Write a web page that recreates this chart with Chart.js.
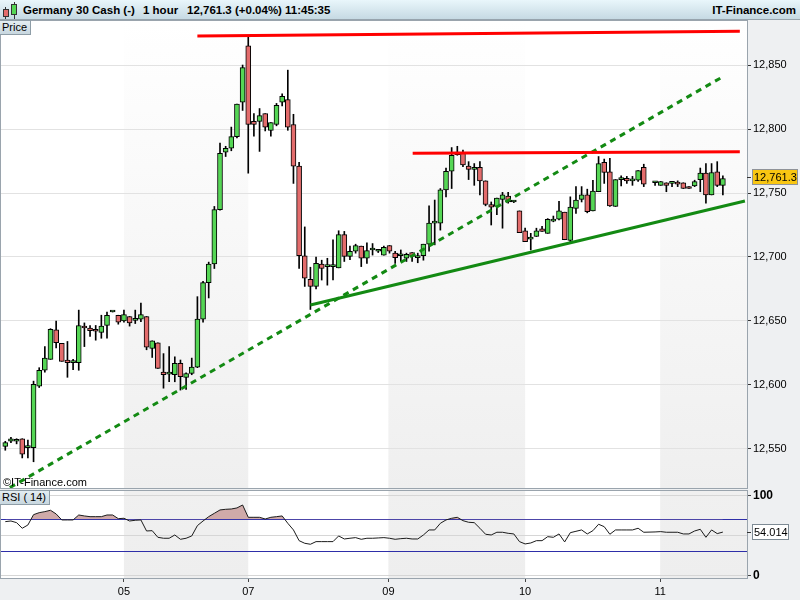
<!DOCTYPE html>
<html>
<head>
<meta charset="utf-8">
<script src="https://cdn.jsdelivr.net/npm/chart.js@4.4.1/dist/chart.umd.min.js"></script>
<style>
  body { margin:0; width:800px; height:600px; overflow:hidden; position:relative; background:#eef0f2; font-family:"Liberation Sans", Arial, sans-serif; }
  #header { position:absolute; left:0; top:0; width:800px; height:19px; background:linear-gradient(#e9f6fb, #c6dae3); border-bottom:1px solid #97a4ad; }
  #header span { position:absolute; top:0; line-height:20px; font-size:11.5px; font-weight:bold; color:#000; white-space:nowrap; }
  .ico { position:absolute; }
  canvas { position:absolute; left:0; }
  .tag { position:absolute; left:0; height:13px; line-height:13px; padding:0 3px 0 2px; font-size:11px; color:#000; background:linear-gradient(#e3edf2,#c8d7df); border:1px solid #8e9da7; border-left:none; }
  #copy { position:absolute; left:3px; top:476px; font-size:11px; line-height:13px; color:#000; }
</style>
</head>
<body>
<div id="header">
  <div class="ico" style="left:5px;top:7px;width:1px;height:12px;background:#333"></div>
  <div class="ico" style="left:3px;top:9px;width:4px;height:6px;background:#e36c6c;border:1px solid #333"></div>
  <div class="ico" style="left:14px;top:2px;width:1px;height:17px;background:#333"></div>
  <div class="ico" style="left:11px;top:4px;width:4px;height:9px;background:#55d655;border:1px solid #333"></div>
  <span style="left:23px">Germany 30 Cash (-)</span>
  <span style="left:143px">1 hour</span>
  <span style="left:187px">12,761.3 (+0.04%)</span>
  <span style="left:285px">11:45:35</span>
  <span style="right:4px">IT-Finance.com</span>
</div>
<canvas id="priceChart" width="800" height="470" style="top:20px"></canvas>
<canvas id="rsiChart" width="800" height="110" style="top:490px"></canvas>
<div class="tag" style="top:20px">Price</div>
<div class="tag" style="top:490px">RSI ( 14)</div>
<div id="copy">©IT-Finance.com</div>
<script>
// hourly candles, index 0..127 (114 = no bar)
const opens = [12552, 12556, 12556, 12558, 12551, 12551, 12599, 12611.5, 12620, 12643,
  12632.5, 12619.5, 12617.5, 12617.5, 12646, 12644.5, 12643, 12641, 12646.5, 12657,
  12654.5, 12650, 12653.5, 12650.5, 12651.5, 12653.5, 12628.5, 12633, 12610, 12608.5,
  12608, 12617, 12606, 12609, 12614, 12651.5, 12680, 12694.5, 12737, 12782,
  12785, 12794, 12821, 12865, 12806, 12806, 12812, 12799, 12803.5, 12821,
  12823, 12803.5, 12771, 12701, 12682.5, 12677, 12694.5, 12692.5, 12692.5, 12691.5,
  12717.5, 12700.5, 12704.5, 12708.5, 12699, 12705.5, 12704.5, 12701.5, 12709, 12703,
  12701, 12699, 12703.5, 12699.5, 12701, 12710, 12726.5, 12726.5, 12752.5, 12767,
  12780, 12781, 12771, 12768.5, 12770, 12759.5, 12741, 12739.5, 12745, 12747.5,
  12743, 12736, 12720.5, 12714, 12716, 12722, 12718.5, 12728, 12729.5, 12735,
  12713, 12738, 12745, 12748.5, 12736, 12751, 12774, 12766.5, 12739.5, 12760.5,
  12761.5, 12759.5, 12760, 12770, null, 12758, 12756, 12758, 12757.5, 12758,
  12758, 12755, 12755.5, 12760.5, 12765.5, 12748.5, 12766.5, 12756];
const highs = [12556, 12559, 12558, 12558, 12557, 12603, 12613.5, 12630, 12644, 12650,
  12632.5, 12634, 12620, 12658.5, 12648.5, 12646.5, 12646.5, 12654.5, 12657, 12657.5,
  12654.5, 12658.5, 12653.5, 12658.5, 12664, 12653.5, 12634.5, 12633, 12624.5, 12630,
  12622, 12619.5, 12609.5, 12621, 12669, 12681, 12696, 12739.5, 12789, 12786.5,
  12801.5, 12819.5, 12850, 12872, 12812, 12816, 12812, 12805, 12820, 12827.5,
  12846, 12811.5, 12774, 12723.5, 12692, 12700, 12697.5, 12699, 12713.5, 12720.5,
  12720, 12708.5, 12710, 12708.5, 12711, 12710.5, 12706, 12708.5, 12709, 12704.5,
  12705.5, 12703, 12703.5, 12703, 12710, 12740, 12744.5, 12753.5, 12769.5, 12785.5,
  12786.5, 12783.5, 12774.5, 12773, 12774.5, 12759.5, 12743, 12746, 12750.5, 12750.5,
  12744, 12736, 12722.5, 12718.5, 12722.5, 12724, 12730, 12732, 12743.5, 12735,
  12747, 12755, 12755, 12753, 12760, 12778.5, 12776.5, 12777, 12760.5, 12763.5,
  12763, 12763, 12767.5, 12772.5, null, 12759, 12759, 12758, 12759, 12759.5,
  12758, 12755, 12760, 12769.5, 12773, 12773, 12774.5, 12763.5];
const lows = [12549, 12555, 12554, 12543, 12543, 12540, 12598, 12610, 12620, 12629,
  12618.5, 12606, 12612, 12611.5, 12630, 12638, 12635, 12636.5, 12636.5, 12657,
  12647.5, 12649, 12646, 12648, 12649.5, 12627.5, 12621.5, 12613, 12597.5, 12602.5,
  12602.5, 12596, 12596.5, 12608, 12613.5, 12649, 12668, 12691, 12736.5, 12778.5,
  12783, 12793, 12814.5, 12765.5, 12794.5, 12782.5, 12798.5, 12794.5, 12802.5, 12818,
  12799, 12757.5, 12691, 12677, 12659, 12675, 12682, 12678, 12682, 12691.5,
  12696.5, 12698, 12703, 12692.5, 12695, 12701.5, 12703.5, 12701.5, 12703, 12695,
  12696.5, 12696.5, 12696.5, 12695.5, 12697.5, 12704.5, 12709.5, 12721, 12747, 12753.5,
  12779.5, 12770.5, 12760.5, 12756, 12748.5, 12740, 12725, 12733, 12722.5, 12742,
  12742.5, 12719, 12712, 12705.5, 12716, 12720, 12718.5, 12727.5, 12729, 12713.5,
  12712, 12734, 12743, 12734.5, 12736, 12751, 12757.5, 12739.5, 12739.5, 12755.5,
  12757.5, 12756, 12759, 12755, null, 12756, 12756, 12751, 12755, 12755,
  12753.5, 12753.5, 12755, 12751, 12742, 12748.5, 12755, 12748.5];
const closes = [12555, 12558, 12556, 12546, 12551, 12600.5, 12611.5, 12621, 12643.5, 12633,
  12618.5, 12617.5, 12617.5, 12646.5, 12644.5, 12642.5, 12642, 12646, 12654.5, 12657,
  12649, 12655, 12648.5, 12652, 12655, 12629.5, 12634.5, 12613, 12608, 12608.5,
  12617, 12606.5, 12609, 12614, 12651.5, 12680, 12694.5, 12737, 12781, 12785,
  12794, 12819.5, 12848, 12803.5, 12803.5, 12810.5, 12801.5, 12805, 12818.5, 12825.5,
  12801.5, 12771, 12701, 12683.5, 12677, 12695, 12691, 12692.5, 12692.5, 12717.5,
  12700.5, 12704.5, 12709, 12699, 12705, 12705.5, 12704.5, 12707.5, 12704.5, 12699.5,
  12701, 12702, 12700.5, 12699.5, 12710, 12726.5, 12726.5, 12752.5, 12767, 12779.5,
  12782, 12772, 12768.5, 12770, 12759.5, 12741, 12739, 12746, 12748.5, 12743,
  12743, 12719, 12712, 12714, 12720.5, 12720, 12729.5, 12728, 12736, 12713.5,
  12739, 12744.5, 12748.5, 12735.5, 12751.5, 12773, 12766, 12740, 12760.5, 12760.5,
  12759.5, 12759.5, 12767.5, 12757, null, 12758, 12759, 12756, 12757.5, 12757,
  12753.5, 12753.5, 12759, 12765.5, 12748.5, 12766, 12756, 12761.3];

const rsiValues = [67.1, 67.9, 65.8, 58.8, 62.9, 75.8, 78.3, 79.6, 81.3, 76.7,
  69.2, 69.2, 69.2, 75.4, 74.2, 73.3, 73.3, 73.3, 75.4, 75.4,
  70.8, 71.3, 67.9, 68.8, 69.2, 55.4, 55.8, 47.5, 46.3, 46.3,
  50.4, 45.0, 46.3, 49.2, 62.1, 67.9, 73.3, 77.5, 81.7, 82.5,
  82.9, 84.2, 87.9, 72.5, 72.5, 72.5, 70.4, 72.5, 73.3, 74.2,
  65.0, 56.7, 43.3, 40.0, 38.8, 42.1, 42.1, 42.1, 42.1, 49.2,
  45.4, 46.3, 47.1, 45.0, 46.3, 46.3, 46.7, 47.1, 46.3, 45.0,
  45.8, 46.3, 45.4, 45.4, 50.4, 56.7, 56.7, 65.0, 69.2, 71.3,
  72.5, 68.3, 66.3, 65.8, 58.8, 51.3, 50.4, 53.8, 53.8, 52.5,
  51.7, 42.1, 39.2, 40.4, 43.3, 43.3, 48.3, 47.5, 51.7, 41.7,
  53.3, 55.0, 56.7, 51.7, 55.8, 63.8, 60.8, 51.3, 56.7, 56.7,
  56.7, 56.7, 58.8, 53.8, null, 54.2, 54.6, 53.8, 53.8, 53.8,
  51.7, 51.7, 55.4, 57.5, 47.5, 56.7, 52.1, 54.014];

const dayTicks = [21, 43, 67.8, 92, 115.9];
const dayLabels = ['05', '07', '09', '10', '11'];
const priceTicks = [12550, 12600, 12650, 12700, 12750, 12800, 12850];
const rsiTicks = [0, 50, 100];
const rsiLevels = [30, 70];

// trend lines drawn on the chart (x = bar index, y = price)
const resistanceTop = [{x: 34.0, y: 12872.7}, {x: 130.0, y: 12876.3}];
const resistanceMid = [{x: 72.1, y: 12781.0}, {x: 130.0, y: 12782.3}];
const supportLine = [{x: 54.0, y: 12662.5}, {x: 130.9, y: 12743.8}];
const dashedSupport = [{x: 0.8, y: 12519.8}, {x: 127.2, y: 12841.4}];

const lastPrice = 12761.3;
const lastRsi = 54.014;

Chart.defaults.font.family = '"Liberation Sans", Arial, sans-serif';
Chart.defaults.color = '#000';

const wickData = [], bodyData = [], bodyColors = [];
opens.forEach((o, i) => {
    if (o === null) return;
    wickData.push({ x: i, y: [lows[i], highs[i]] });
    bodyData.push({ x: i, y: [o, closes[i]] });
    bodyColors.push(closes[i] >= o ? '#55d655' : '#e36c6c');
});

const xMin = -0.76, xMax = 131.27;

const bandsPlugin = {
    id: 'bands',
    beforeDraw(chart, args, opts) {
        const { ctx, chartArea: a, scales: { x } } = chart;
        ctx.save();
        ctx.fillStyle = '#fff';
        ctx.fillRect(a.left, a.top, a.width, a.height);
        const g = ctx.createLinearGradient(0, a.top, 0, a.bottom);
        g.addColorStop(0, opts.top);
        g.addColorStop(1, opts.bottom);
        ctx.fillStyle = g;
        const edges = [x.min, ...dayTicks, x.max];
        for (let k = 1; k < edges.length - 1; k += 2) {
            const x0 = x.getPixelForValue(edges[k]);
            const x1 = x.getPixelForValue(edges[k + 1]);
            ctx.fillRect(x0, a.top, x1 - x0, a.height);
        }
        ctx.restore();
    }
};

const framePlugin = {
    id: 'frame',
    afterDraw(chart) {
        const { ctx, chartArea: a } = chart;
        ctx.save();
        ctx.strokeStyle = '#9aa4ad';
        ctx.lineWidth = 1;
        ctx.strokeRect(a.left - 0.5, a.top - 0.5, a.width + 1, a.height + 1);
        ctx.restore();
    }
};

const valueTagPlugin = {
    id: 'valueTag',
    afterDraw(chart, args, opts) {
        const { ctx, chartArea: a, scales: { y } } = chart;
        const py = Math.round(y.getPixelForValue(opts.value) + opts.shift);
        ctx.save();
        ctx.strokeStyle = '#333';
        ctx.lineWidth = 1;
        ctx.beginPath();
        ctx.moveTo(a.right, py + 0.5);
        ctx.lineTo(a.right + 4, py + 0.5);
        ctx.stroke();
        ctx.fillStyle = opts.fill;
        ctx.fillRect(a.right + 5.5, py - 7.5, opts.width, 15);
        ctx.strokeStyle = opts.border;
        ctx.strokeRect(a.right + 5.5, py - 7.5, opts.width, 15);
        ctx.fillStyle = '#000';
        ctx.font = '11px "Liberation Sans", Arial, sans-serif';
        ctx.textBaseline = 'middle';
        ctx.fillText(opts.text, a.right + 7, py + 1);
        ctx.restore();
    }
};

const levelsPlugin = {
    id: 'levels',
    beforeDatasetsDraw(chart) {
        const { ctx, chartArea: a, scales: { y } } = chart;
        ctx.save();
        ctx.strokeStyle = '#2e2ea8';
        ctx.lineWidth = 1;
        rsiLevels.forEach(v => {
            const py = Math.round(y.getPixelForValue(v)) + 0.5;
            ctx.beginPath();
            ctx.moveTo(a.left, py);
            ctx.lineTo(a.right, py);
            ctx.stroke();
        });
        ctx.restore();
    }
};

const trend = (data, color, dash) => ({
    type: 'line', data, borderColor: color, borderWidth: 3, borderDash: dash || [],
    pointRadius: 0, tension: 0, order: 0
});

new Chart(document.getElementById('priceChart'), {
    type: 'bar',
    data: {
        datasets: [
            trend(resistanceTop, '#ff0000'),
            trend(resistanceMid, '#ff0000'),
            trend(supportLine, '#138a13'),
            trend(dashedSupport, '#138a13', [6, 5]),
            {
                data: bodyData, backgroundColor: bodyColors, borderColor: '#000', borderWidth: 1,
                borderSkipped: false, barThickness: 5, minBarLength: 2, grouped: false, order: 1
            },
            { data: wickData, backgroundColor: '#000', barThickness: 1, grouped: false, order: 2 }
        ]
    },
    options: {
        responsive: false,
        animation: false,
        events: [],
        layout: { padding: { left: 1, top: 1, right: 0, bottom: 2 } },
        plugins: {
            legend: { display: false },
            tooltip: { enabled: false },
            bands: { top: '#ffffff', bottom: '#efefef' },
            valueTag: {
                value: lastPrice, shift: -1.5, fill: '#f8c612', border: '#8f9399', width: 45,
                text: lastPrice.toLocaleString('en-US', { minimumFractionDigits: 1 })
            }
        },
        scales: {
            x: { type: 'linear', min: xMin, max: xMax, display: false, offset: false },
            y: {
                position: 'right', min: 12519.5, max: 12884.4,
                afterBuildTicks: s => { s.ticks = priceTicks.map(v => ({ value: v })); },
                afterFit: s => { s.width = 53; s.paddingTop = 0; s.paddingBottom = 0; },
                ticks: { callback: v => v.toLocaleString('en-US'), font: { size: 11 }, padding: 2 },
                grid: { color: '#e2e2e2', tickLength: 4, tickColor: '#333' },
                border: { color: '#9aa4ad' }
            }
        }
    },
    plugins: [bandsPlugin, framePlugin, valueTagPlugin]
});

new Chart(document.getElementById('rsiChart'), {
    type: 'line',
    data: {
        datasets: [{
            data: rsiValues.map((v, i) => ({ x: i, y: v })),
            borderColor: '#1b1b1b', borderWidth: 1, pointRadius: 0, tension: 0, spanGaps: true,
            fill: { target: { value: 70 }, above: '#cfaaa9', below: 'rgba(0,0,0,0)' }
        }]
    },
    options: {
        responsive: false,
        animation: false,
        events: [],
        layout: { padding: { left: 1, top: 1, right: 0, bottom: 0 } },
        plugins: {
            legend: { display: false },
            tooltip: { enabled: false },
            bands: { top: '#f0f0f0', bottom: '#eeeeee' },
            valueTag: { value: lastRsi, shift: 0, fill: '#ffffff', border: '#7d8a94', width: 36, text: lastRsi.toFixed(3) }
        },
        scales: {
            x: {
                type: 'linear', min: xMin, max: xMax, offset: false,
                afterBuildTicks: s => { s.ticks = dayTicks.map(v => ({ value: v })); },
                afterFit: s => { s.height = 22; s.paddingLeft = 0; s.paddingRight = 0; },
                ticks: { callback: (v, i) => dayLabels[i], font: { size: 11 }, maxRotation: 0, autoSkip: false, padding: 3 },
                grid: { drawOnChartArea: false, tickLength: 4, tickColor: '#444' },
                border: { color: '#9aa4ad' }
            },
            y: {
                position: 'right', min: -3.4, max: 105.4,
                afterBuildTicks: s => { s.ticks = rsiTicks.map(v => ({ value: v })); },
                afterFit: s => { s.width = 53; s.paddingTop = 0; s.paddingBottom = 0; },
                ticks: { callback: v => (v === 50 ? '' : String(v)), font: { size: 12, weight: 'bold' }, padding: 2 },
                grid: {
                    color: '#d6d6d6', tickLength: 4,
                    tickColor: c => (c.tick && c.tick.value === 50 ? 'rgba(0,0,0,0)' : '#444')
                },
                border: { color: '#9aa4ad' }
            }
        }
    },
    plugins: [bandsPlugin, levelsPlugin, framePlugin, valueTagPlugin]
});
</script>
</body>
</html>
